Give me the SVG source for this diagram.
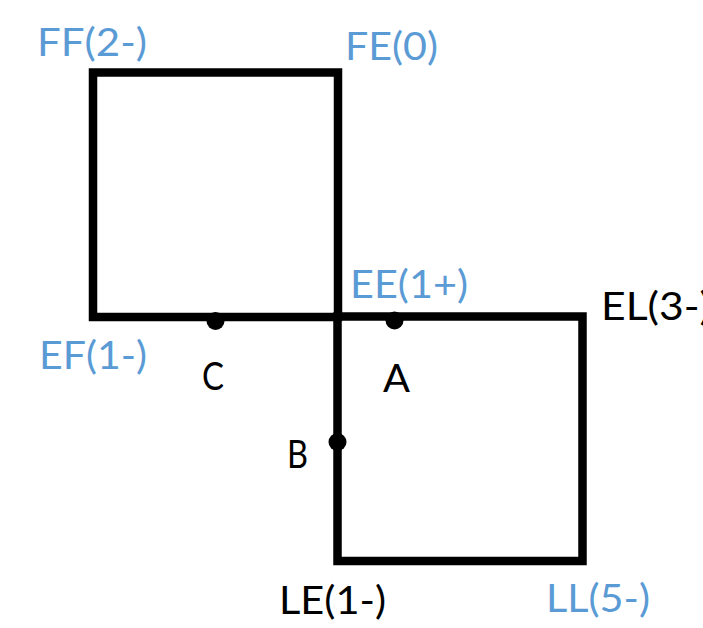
<svg xmlns="http://www.w3.org/2000/svg" width="703" height="628" viewBox="0 0 703 628">
<style>
.sq{fill:none;stroke:#000;stroke-width:8.5;stroke-linejoin:miter}
.t{font-family:Lato,"Open Sans","Liberation Sans",sans-serif;font-size:39px}
.b{fill:#5B9BD5}
.k{fill:#000}
.dot{fill:#000}
</style>
<rect width="703" height="628" fill="#fff"/>
<g id="square-upper">
<rect class="sq" x="93" y="72.5" width="245" height="244.5"/>
</g>
<g id="square-lower">
<rect class="sq" x="337.5" y="316.5" width="245" height="244.5"/>
</g>
<g id="points">
<g id="point-C"><circle class="dot" cx="215.5" cy="321" r="9"/><text class="t k" x="202" y="390" textLength="22" lengthAdjust="spacingAndGlyphs">C</text></g>
<g id="point-A"><circle class="dot" cx="394.5" cy="320.5" r="9"/><text class="t k" x="383" y="391.5" textLength="27" lengthAdjust="spacingAndGlyphs">A</text></g>
<g id="point-B"><circle class="dot" cx="337.5" cy="442" r="9"/><text class="t k" x="287" y="468" textLength="21" lengthAdjust="spacingAndGlyphs">B</text></g>
</g>
<g id="labels">
<text class="t b" x="37" y="56" textLength="110" lengthAdjust="spacingAndGlyphs">FF(2-)</text>
<text class="t b" x="345" y="60" textLength="93" lengthAdjust="spacingAndGlyphs">FE(0)</text>
<text class="t b" x="350" y="298" textLength="118" lengthAdjust="spacingAndGlyphs">EE(1+)</text>
<text class="t k" x="601" y="320" textLength="110" lengthAdjust="spacingAndGlyphs">EL(3-)</text>
<text class="t b" x="39" y="369" textLength="108" lengthAdjust="spacingAndGlyphs">EF(1-)</text>
<text class="t k" x="279" y="614" textLength="107" lengthAdjust="spacingAndGlyphs">LE(1-)</text>
<text class="t b" x="546" y="612" textLength="104" lengthAdjust="spacingAndGlyphs">LL(5-)</text>
</g>
</svg>
